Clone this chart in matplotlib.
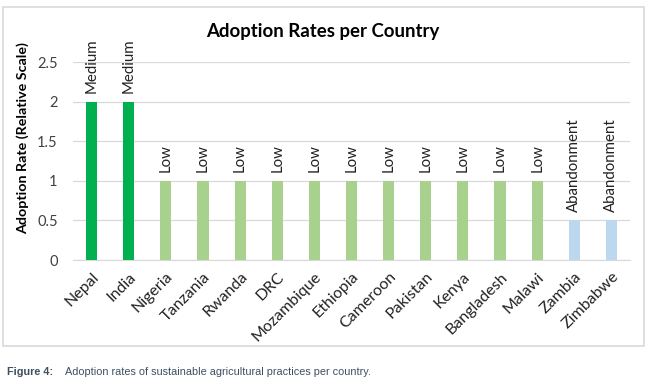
import matplotlib.pyplot as plt
from matplotlib.patches import Rectangle

countries = ["Nepal", "India", "Nigeria", "Tanzania", "Rwanda", "DRC", "Mozambique",
             "Ethiopia", "Cameroon", "Pakistan", "Kenya", "Bangladesh", "Malawi",
             "Zambia", "Zimbabwe"]
rates = [2, 2, 1, 1, 1, 1, 1, 1, 1, 1, 1, 1, 1, 0.5, 0.5]
levels = ["Medium", "Medium", "Low", "Low", "Low", "Low", "Low", "Low", "Low",
          "Low", "Low", "Low", "Low", "Abandonment", "Abandonment"]
level_colors = {"Medium": "#00B050", "Low": "#A9D18E", "Abandonment": "#BDD7EE"}
yticks = [0, 0.5, 1, 1.5, 2, 2.5]

plt.rcParams['font.family'] = ['Lato', 'DejaVu Sans']

fig = plt.figure(figsize=(6.54, 3.82), dpi=100)
W, H = 654, 382
ax = fig.add_axes([73 / W, 1 - 260 / H, (630 - 73) / W, (260 - 62) / H])

x = range(len(countries))
bars = ax.bar(x, rates, width=0.3, color=[level_colors[l] for l in levels], zorder=3)
for xi, r, l in zip(x, rates, levels):
    ax.annotate(l, (xi, r), xytext=(0, 6), textcoords='offset points', rotation=90,
                ha='center', va='bottom', fontsize=10.8, color='#222222')

ax.set_xlim(-0.5, len(countries) - 0.5)
ax.set_ylim(0, 2.5)
ax.set_yticks(yticks)
ax.set_yticklabels([f"{t:g}" for t in yticks], fontsize=10.5, color='#404040')
ax.set_xticks(list(x))
ax.set_xticklabels(countries, rotation=45, ha='right', rotation_mode='anchor',
                   fontsize=11.5, color='#222222')
ax.tick_params(length=0, axis='both')
ax.tick_params(axis='y', pad=11)
ax.tick_params(axis='x', pad=7)
ax.grid(axis='y', color='#D9D9D9', linewidth=0.9, zorder=0)
for s in ['top', 'right', 'left']:
    ax.spines[s].set_visible(False)
ax.spines['bottom'].set_color('#D9D9D9')
ax.spines['bottom'].set_zorder(1)

fig.text(22.5 / W, 1 - 138 / H, "Adoption Rate (Relative Scale)", rotation=90,
         ha='center', va='center', fontsize=10.3, fontweight='bold')

fig.text(323 / W, 1 - 31 / H, "Adoption Rates per Country", ha='center', va='center',
         fontsize=13.4, fontweight='bold')

fig.patches.append(Rectangle((3 / W, 1 - 346 / H), 641 / W, 339 / H,
                             transform=fig.transFigure, fill=False,
                             edgecolor='#D9D9D9', linewidth=1.2))

caption_font = ['Liberation Sans Narrow', 'Liberation Sans', 'DejaVu Sans']
fig.text(7 / W, 1 - 372 / H, "Figure 4:", ha='left', va='center', fontsize=7.8,
         fontweight='bold', color='#3E4F63', family=caption_font)
fig.text(65 / W, 1 - 372 / H,
         "Adoption rates of sustainable agricultural practices per country.",
         ha='left', va='center', fontsize=7.8, color='#3E4F63', family=caption_font)

fig.savefig("out.png", dpi=100)
